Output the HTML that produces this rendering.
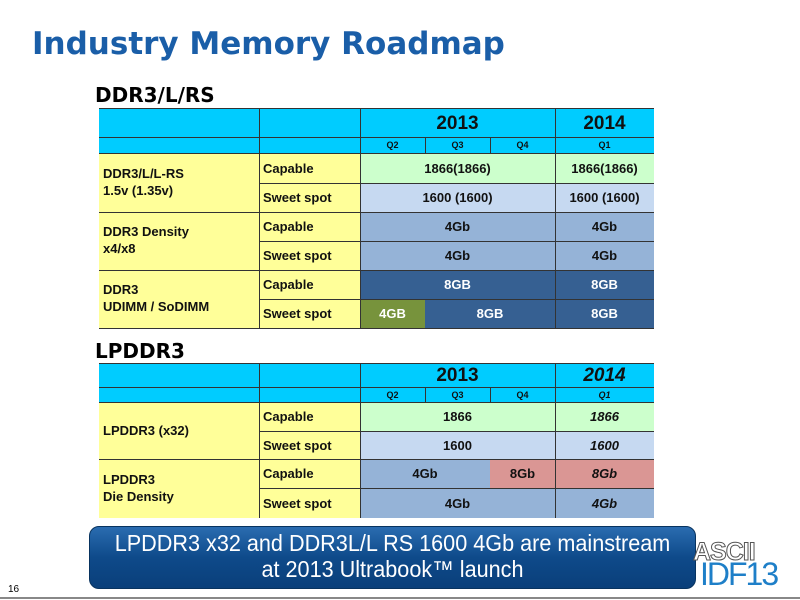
<!DOCTYPE html>
<html><head><meta charset="utf-8"><style>
body{margin:0;width:800px;height:600px;background:#fff;position:relative;overflow:hidden;font-family:"Liberation Sans",Arial,sans-serif}
.a{position:absolute;box-sizing:border-box;display:flex;align-items:center;justify-content:center;font-weight:bold;font-size:13px;color:#111}
.l{justify-content:flex-start;padding-left:4px}
.c{background:#00ccff}
.y{background:#ffff99}
.g{background:#ccffcc}
.lb{background:#c6d9f1}
.mb{background:#95b3d7}
.db{background:#366092;color:#fff}
.ol{background:#77933c;color:#fff}
.pk{background:#da9694}
.h{position:absolute;height:1px;background:#333}
.v{position:absolute;width:1px;background:#333}
</style></head><body>
<div style="position:absolute;left:32px;top:26px;font-family:'DejaVu Sans',sans-serif;font-weight:bold;font-size:31px;color:#1a5ea8">Industry Memory Roadmap</div>
<div style="position:absolute;left:95px;top:83px;font-family:'DejaVu Sans',sans-serif;font-weight:bold;font-size:20px;color:#000">DDR3/L/RS</div>

<div class="a c" style="left:99px;top:108px;width:555px;height:45px"></div>
<div class="a" style="left:360px;top:110px;width:195px;height:28px;font-size:19px">2013</div>
<div class="a" style="left:555px;top:110px;width:99px;height:28px;font-size:19px">2014</div>
<div class="a" style="left:360px;top:137px;width:65px;height:16px;font-size:9px">Q2</div>
<div class="a" style="left:425px;top:137px;width:65px;height:16px;font-size:9px">Q3</div>
<div class="a" style="left:490px;top:137px;width:65px;height:16px;font-size:9px">Q4</div>
<div class="a" style="left:555px;top:137px;width:99px;height:16px;font-size:9px">Q1</div>
<div class="a y l" style="left:99px;top:153px;width:160px;height:175px"></div>
<div class="a y l" style="left:259px;top:153px;width:101px;height:175px"></div>
<div class="a l" style="left:99px;top:153px;width:160px;height:59px;line-height:17px;display:block;padding-top:12px">DDR3/L/L-RS<br>1.5v (1.35v)</div>
<div class="a l" style="left:99px;top:212px;width:160px;height:58px;line-height:17px;display:block;padding-top:11px">DDR3 Density<br>x4/x8</div>
<div class="a l" style="left:99px;top:270px;width:160px;height:58px;line-height:17px;display:block;padding-top:11px">DDR3<br>UDIMM / SoDIMM</div>
<div class="a l" style="left:259px;top:153px;width:101px;height:30px">Capable</div>
<div class="a l" style="left:259px;top:183px;width:101px;height:29px">Sweet spot</div>
<div class="a l" style="left:259px;top:212px;width:101px;height:29px">Capable</div>
<div class="a l" style="left:259px;top:241px;width:101px;height:29px">Sweet spot</div>
<div class="a l" style="left:259px;top:270px;width:101px;height:29px">Capable</div>
<div class="a l" style="left:259px;top:299px;width:101px;height:29px">Sweet spot</div>
<div class="a g" style="left:360px;top:153px;width:195px;height:30px">1866(1866)</div>
<div class="a g" style="left:555px;top:153px;width:99px;height:30px">1866(1866)</div>
<div class="a lb" style="left:360px;top:183px;width:195px;height:29px">1600 (1600)</div>
<div class="a lb" style="left:555px;top:183px;width:99px;height:29px">1600 (1600)</div>
<div class="a mb" style="left:360px;top:212px;width:195px;height:29px">4Gb</div>
<div class="a mb" style="left:555px;top:212px;width:99px;height:29px">4Gb</div>
<div class="a mb" style="left:360px;top:241px;width:195px;height:29px">4Gb</div>
<div class="a mb" style="left:555px;top:241px;width:99px;height:29px">4Gb</div>
<div class="a db" style="left:360px;top:270px;width:195px;height:29px">8GB</div>
<div class="a db" style="left:555px;top:270px;width:99px;height:29px">8GB</div>
<div class="a ol" style="left:360px;top:299px;width:65px;height:29px">4GB</div>
<div class="a db" style="left:425px;top:299px;width:130px;height:29px">8GB</div>
<div class="a db" style="left:555px;top:299px;width:99px;height:29px">8GB</div>
<div class="h" style="left:99px;top:108px;width:555px"></div>
<div class="h" style="left:99px;top:137px;width:555px"></div>
<div class="h" style="left:99px;top:153px;width:555px"></div>
<div class="h" style="left:259px;top:183px;width:395px"></div>
<div class="h" style="left:99px;top:212px;width:555px"></div>
<div class="h" style="left:259px;top:241px;width:395px"></div>
<div class="h" style="left:99px;top:270px;width:555px"></div>
<div class="h" style="left:259px;top:299px;width:395px"></div>
<div class="h" style="left:99px;top:328px;width:555px"></div>
<div class="v" style="left:259px;top:108px;height:220px"></div>
<div class="v" style="left:360px;top:108px;height:220px"></div>
<div class="v" style="left:555px;top:108px;height:220px"></div>
<div class="v" style="left:425px;top:137px;height:16px"></div>
<div class="v" style="left:490px;top:137px;height:16px"></div>

<div style="position:absolute;left:95px;top:339px;font-family:'DejaVu Sans',sans-serif;font-weight:bold;font-size:20px;color:#000">LPDDR3</div>

<div class="a c" style="left:99px;top:363px;width:555px;height:39px"></div>
<div class="a" style="left:360px;top:364px;width:195px;height:24px;font-size:19px">2013</div>
<div class="a" style="left:555px;top:364px;width:99px;height:24px;font-size:19px;font-style:italic">2014</div>
<div class="a" style="left:360px;top:387px;width:65px;height:15px;font-size:9px">Q2</div>
<div class="a" style="left:425px;top:387px;width:65px;height:15px;font-size:9px">Q3</div>
<div class="a" style="left:490px;top:387px;width:65px;height:15px;font-size:9px">Q4</div>
<div class="a" style="left:555px;top:387px;width:99px;height:15px;font-size:9px;font-style:italic">Q1</div>
<div class="a y" style="left:99px;top:402px;width:160px;height:116px"></div>
<div class="a y" style="left:259px;top:402px;width:101px;height:116px"></div>
<div class="a l" style="left:99px;top:402px;width:160px;height:57px">LPDDR3 (x32)</div>
<div class="a l" style="left:99px;top:459px;width:160px;height:59px;line-height:17px;display:block;padding-top:12px">LPDDR3<br>Die Density</div>
<div class="a l" style="left:259px;top:402px;width:101px;height:29px">Capable</div>
<div class="a l" style="left:259px;top:431px;width:101px;height:28px">Sweet spot</div>
<div class="a l" style="left:259px;top:459px;width:101px;height:29px">Capable</div>
<div class="a l" style="left:259px;top:488px;width:101px;height:30px">Sweet spot</div>
<div class="a g" style="left:360px;top:402px;width:195px;height:29px">1866</div>
<div class="a g" style="left:555px;top:402px;width:99px;height:29px;font-style:italic">1866</div>
<div class="a lb" style="left:360px;top:431px;width:195px;height:28px">1600</div>
<div class="a lb" style="left:555px;top:431px;width:99px;height:28px;font-style:italic">1600</div>
<div class="a mb" style="left:360px;top:459px;width:130px;height:29px">4Gb</div>
<div class="a pk" style="left:490px;top:459px;width:65px;height:29px">8Gb</div>
<div class="a pk" style="left:555px;top:459px;width:99px;height:29px;font-style:italic">8Gb</div>
<div class="a mb" style="left:360px;top:488px;width:195px;height:30px">4Gb</div>
<div class="a mb" style="left:555px;top:488px;width:99px;height:30px;font-style:italic">4Gb</div>
<div class="h" style="left:99px;top:363px;width:555px"></div>
<div class="h" style="left:99px;top:387px;width:555px"></div>
<div class="h" style="left:99px;top:402px;width:555px"></div>
<div class="h" style="left:259px;top:431px;width:395px"></div>
<div class="h" style="left:99px;top:459px;width:555px"></div>
<div class="h" style="left:259px;top:488px;width:395px"></div>
<div class="v" style="left:259px;top:363px;height:155px"></div>
<div class="v" style="left:360px;top:363px;height:155px"></div>
<div class="v" style="left:555px;top:363px;height:155px"></div>
<div class="v" style="left:425px;top:387px;height:15px"></div>
<div class="v" style="left:490px;top:387px;height:15px"></div>

<div style="position:absolute;left:89px;top:526px;width:607px;height:63px;border-radius:10px;background:linear-gradient(#2a6cb0,#0e4a8a 50%,#0a3f7a);border:1px solid #08335f;box-sizing:border-box"></div>
<div style="position:absolute;left:89px;top:530px;width:607px;color:#fff;font-size:23px;text-align:center;line-height:26px;transform:scaleX(0.94);transform-origin:center">LPDDR3 x32 and DDR3L/L RS 1600 4Gb are mainstream<br>at 2013 Ultrabook™ launch</div>
<div style="position:absolute;left:693px;top:538px;font-size:25px;font-weight:bold;color:#fff;-webkit-text-stroke:1px #555;letter-spacing:-1px">ASCII</div>
<div style="position:absolute;left:700px;top:556px;font-size:32px;color:#1e7fc8;letter-spacing:-2px">IDF13</div>
<div style="position:absolute;left:8px;top:584px;font-size:10px;color:#000">16</div>
<div style="position:absolute;left:0;top:597px;width:800px;height:2px;background:#888"></div>
</body></html>
